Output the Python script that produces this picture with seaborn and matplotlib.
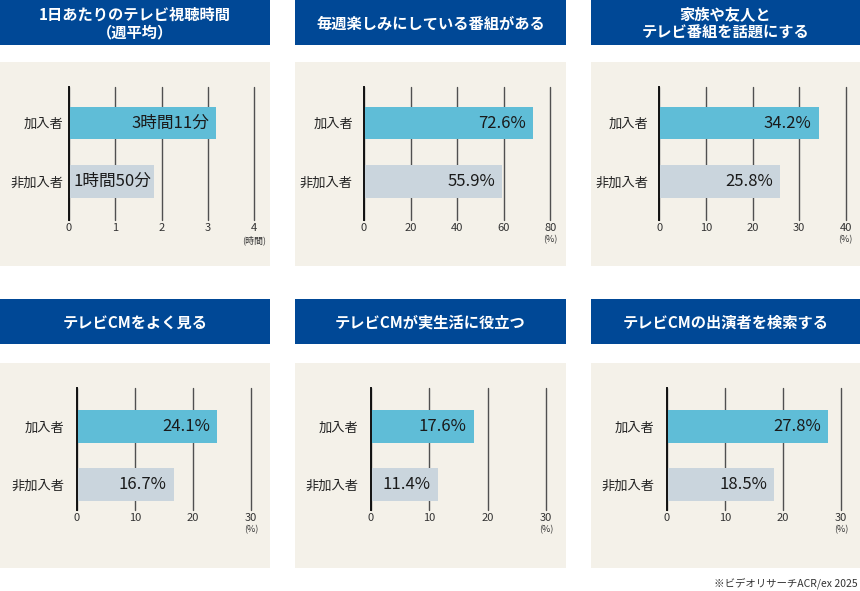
import matplotlib
matplotlib.use("Agg")
import matplotlib.pyplot as plt
from matplotlib.patches import Rectangle
import matplotlib.transforms as mtransforms
import seaborn as sns
import pandas as pd

sns.set_theme(style="white")
plt.rcParams['font.family'] = ['Noto Sans CJK JP', 'DejaVu Sans']

# ---------------- data ----------------
titles = ["1日あたりのテレビ視聴時間\n（週平均）",
          "毎週楽しみにしている番組がある",
          "家族や友人と\nテレビ番組を話題にする",
          "テレビCMをよく見る",
          "テレビCMが実生活に役立つ",
          "テレビCMの出演者を検索する"]
groups = ["加入者", "非加入者"]
# bar lengths as drawn in the picture
values_sub = [3 + 11 / 60, 72.6, 34.2, 24.1, 17.6, 27.8]
values_non = [1 + 50 / 60, 59.3, 25.8, 16.7, 11.4, 18.5]
labels_sub = ["3時間11分", "72.6%", "34.2%", "24.1%", "17.6%", "27.8%"]
labels_non = ["1時間50分", "55.9%", "25.8%", "16.7%", "11.4%", "18.5%"]
ticks = [[0, 1, 2, 3, 4], [0, 20, 40, 60, 80], [0, 10, 20, 30, 40],
         [0, 10, 20, 30], [0, 10, 20, 30], [0, 10, 20, 30]]
units = ["(時間)", "(%)", "(%)", "(%)", "(%)", "(%)"]
source = "※ビデオリサーチACR/ex 2025"

# ---------------- style / layout (pixels) ----------------
W, H = 860, 591
C_SUB = "#5fbdd7"
C_NON = "#cad5dd"
C_HEAD = "#004896"
C_BG = "#f4f1e9"
header_x = [(0, 270), (295, 566), (591, 860)]
header_y = [(0, 45), (299, 344)]
bg_y = [(62, 266), (363, 568)]
axes_x = [(69, 254.3), (364, 550.3), (659.3, 845.7),
          (76.7, 251), (371, 546), (666.7, 841)]
axes_y = [(87, 220), (388, 510)]
bar_centers = [(123, 181.5), (426.5, 484.5)]
bar_h = [32.5, 33]
label_pad = [4, 8, 8, 9, 9, 9]

fig = plt.figure(figsize=(W / 100, H / 100), dpi=100)
fig.patch.set_facecolor("white")


def frect(x0, x1, y0, y1, color):
    r = Rectangle((x0 / W, 1 - y1 / H), (x1 - x0) / W, (y1 - y0) / H,
                  transform=fig.transFigure, facecolor=color, edgecolor="none",
                  zorder=-10)
    fig.add_artist(r)


for i in range(6):
    row, col = divmod(i, 3)
    hx0, hx1 = header_x[col]
    hy0, hy1 = header_y[row]
    frect(hx0, hx1, hy0, hy1, C_HEAD)
    by0, by1 = bg_y[row]
    frect(hx0, hx1, by0, by1, C_BG)
    fig.text(((hx0 + hx1) / 2) / W, 1 - ((hy0 + hy1) / 2 + 1) / H, titles[i],
             ha="center", va="center", color="white", fontsize=11,
             fontweight="bold", linespacing=1.15)

    ax0, ax1 = axes_x[i]
    ay0, ay1 = axes_y[row]
    ax = fig.add_axes([ax0 / W, 1 - ay1 / H, (ax1 - ax0) / W, (ay1 - ay0) / H])
    ax.set_facecolor("none")

    c0, c1 = bar_centers[row]
    unit = c1 - c0
    width = bar_h[row] / unit

    df = pd.DataFrame({"group": groups, "value": [values_sub[i], values_non[i]]})
    sns.barplot(data=df, x="value", y="group", hue="group",
                palette=[C_SUB, C_NON], orient="h", width=width, ax=ax,
                legend=False, saturation=1, edgecolor="none")

    ax.set_ylim(1 + (ay1 - c1) / unit, -(c0 - ay0) / unit)
    tk = ticks[i]
    ax.set_xlim(0, tk[-1])
    ax.set_xticks(tk)
    ax.set_xticklabels([str(t) for t in tk])
    ax.set_xlabel("")
    ax.set_ylabel("")
    ax.set_axisbelow(True)
    ax.grid(axis="x", color="#505050", linewidth=1.0)
    ax.grid(axis="y", visible=False)
    for gl in ax.get_xgridlines():
        gl.set_clip_on(False)
    for s in ["top", "right", "bottom"]:
        ax.spines[s].set_visible(False)
    ax.spines["left"].set_color("#111111")
    ax.spines["left"].set_linewidth(1.4)
    ax.tick_params(axis="x", length=0, pad=2, labelsize=8, labelcolor="#333333")
    ax.tick_params(axis="y", length=0, pad=label_pad[i], labelsize=9.5,
                   labelcolor="#222222")

    # value labels inside bars
    lbls = [labels_sub[i], labels_non[i]]
    vals = [values_sub[i], values_non[i]]
    for j in range(2):
        pad_pts = -5 if not (i == 0 and j == 1) else -1.5
        ax.annotate(lbls[j], xy=(vals[j], j), xytext=(pad_pts, 0),
                    textcoords="offset points", ha="right", va="center",
                    fontsize=12, color="#1a1a1a")

    # unit label
    trans = mtransforms.blended_transform_factory(ax.transData, ax.transAxes)
    ax.annotate(units[i], xy=(tk[-1], 0), xycoords=trans, xytext=(0, -14.5),
                textcoords="offset points", ha="center", va="center",
                fontsize=6.5, color="#333333")

fig.text(858 / W, 1 - 583 / H, source, ha="right", va="center",
         fontsize=7.5, color="#333333")

fig.savefig("out.png", dpi=100, facecolor="white")
